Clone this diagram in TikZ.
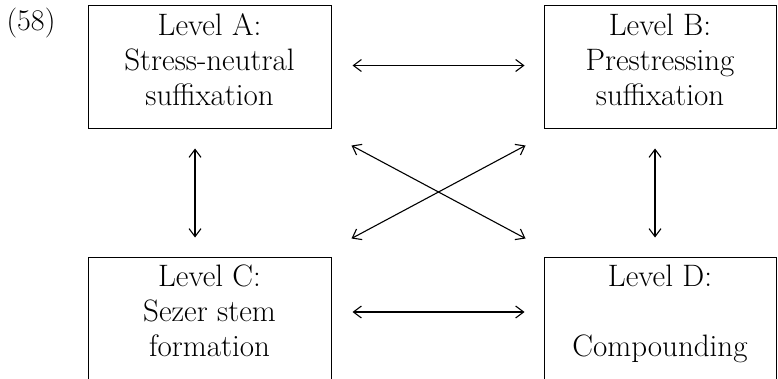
\documentclass[tikz,border=0pt]{standalone}
\usepackage{fontspec}
\usetikzlibrary{arrows.meta}
\begin{document}
\begin{tikzpicture}[x=1pt,y=1pt,
  box/.style={draw, line width=1pt, minimum height=123pt, inner sep=0pt, align=center,
    font=\fontsize{31}{35}\selectfont, text depth=16pt},
  link/.style={line width=1.1pt,
    {Straight Barb[length=8pt,width=12pt,line width=1.1pt]}-{Straight Barb[length=8pt,width=12pt,line width=1.1pt]}}]
\useasboundingbox (0,0) rectangle (778,-379);
\node[anchor=base, font=\fontsize{30}{36}\selectfont] (num) at (31,-31) {(\oldstylenums{58})};
\node[box, minimum width=243pt] (A) at (209.5,-67.5) {Level A:\\Stress-neutral\\suffixation};
\node[box, minimum width=232pt] (B) at (660,-67.5) {Level B:\\Prestressing\\suffixation};
\node[box, minimum width=243pt] (C) at (209.5,-318.5) {Level C:\\Sezer stem\\formation};
\node[box, minimum width=232pt] (D) at (660,-318.5) {Level D:\\ \\Compounding};
\draw[link] ([yshift=2,xshift=21]A.east) -- ([yshift=2,xshift=-19]B.west);
\draw[link] ([yshift=6.5,xshift=21]C.east) -- ([yshift=6.5,xshift=-19]D.west);
\draw[link] ([xshift=-14.5,yshift=-19]A.south) -- ([xshift=-14.5,yshift=19]C.north);
\draw[link] ([xshift=-5,yshift=-19]B.south) -- ([xshift=-5,yshift=19]D.north);
\draw[link] ([shift={(20,-16)}]A.south east) -- ([shift={(-18,18)}]D.north west);
\draw[link] ([shift={(20,18)}]C.north east) -- ([shift={(-18,-16)}]B.south west);
\end{tikzpicture}
\end{document}
